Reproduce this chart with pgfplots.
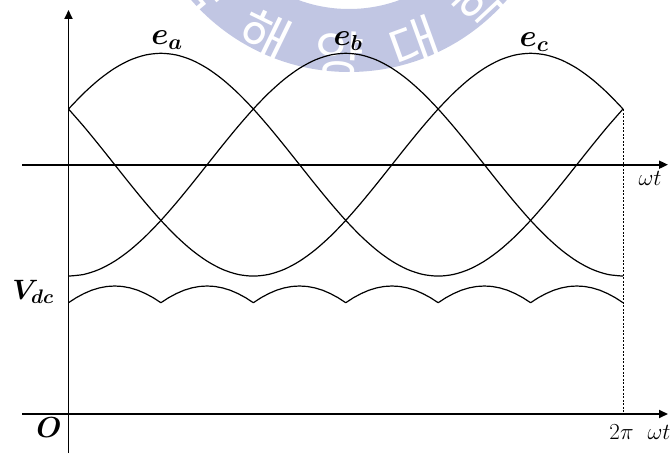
\RequirePackage{fix-cm}
\documentclass[border=0pt]{standalone}
\usepackage{pgfplots}
\usepackage{pgfplotstable}
\usepackage{bm}
\usepackage{fontspec}
\pgfplotsset{compat=1.18}
\usetikzlibrary{arrows.meta}
\newfontfamily\krfont{Noto Sans CJK KR}
\definecolor{sealblue}{RGB}{193,198,227}

% three phase voltages, one period (degrees)
\pgfplotstableread{
deg   ea       eb       ec
0     0.5000  -1.0000   0.5000
10    0.6428  -0.9848   0.3420
20    0.7660  -0.9397   0.1736
30    0.8660  -0.8660   0.0000
40    0.9397  -0.7660  -0.1736
50    0.9848  -0.6428  -0.3420
60    1.0000  -0.5000  -0.5000
70    0.9848  -0.3420  -0.6428
80    0.9397  -0.1736  -0.7660
90    0.8660   0.0000  -0.8660
100   0.7660   0.1736  -0.9397
110   0.6428   0.3420  -0.9848
120   0.5000   0.5000  -1.0000
130   0.3420   0.6428  -0.9848
140   0.1736   0.7660  -0.9397
150   0.0000   0.8660  -0.8660
160  -0.1736   0.9397  -0.7660
170  -0.3420   0.9848  -0.6428
180  -0.5000   1.0000  -0.5000
190  -0.6428   0.9848  -0.3420
200  -0.7660   0.9397  -0.1736
210  -0.8660   0.8660   0.0000
220  -0.9397   0.7660   0.1736
230  -0.9848   0.6428   0.3420
240  -1.0000   0.5000   0.5000
250  -0.9848   0.3420   0.6428
260  -0.9397   0.1736   0.7660
270  -0.8660   0.0000   0.8660
280  -0.7660  -0.1736   0.9397
290  -0.6428  -0.3420   0.9848
300  -0.5000  -0.5000   1.0000
310  -0.3420  -0.6428   0.9848
320  -0.1736  -0.7660   0.9397
330   0.0000  -0.8660   0.8660
340   0.1736  -0.9397   0.7660
350   0.3420  -0.9848   0.6428
360   0.5000  -1.0000   0.5000
}\phases

% rectified dc voltage (six pulses per period)
\pgfplotstableread{
deg  vdc
0   -1.239
5   -1.194
10  -1.157
15  -1.127
20  -1.106
25  -1.093
30  -1.089
35  -1.093
40  -1.106
45  -1.127
50  -1.157
55  -1.194
60  -1.239
65  -1.194
70  -1.157
75  -1.127
80  -1.106
85  -1.093
90  -1.089
95  -1.093
100 -1.106
105 -1.127
110 -1.157
115 -1.194
120 -1.239
125 -1.194
130 -1.157
135 -1.127
140 -1.106
145 -1.093
150 -1.089
155 -1.093
160 -1.106
165 -1.127
170 -1.157
175 -1.194
180 -1.239
185 -1.194
190 -1.157
195 -1.127
200 -1.106
205 -1.093
210 -1.089
215 -1.093
220 -1.106
225 -1.127
230 -1.157
235 -1.194
240 -1.239
245 -1.194
250 -1.157
255 -1.127
260 -1.106
265 -1.093
270 -1.089
275 -1.093
280 -1.106
285 -1.127
290 -1.157
295 -1.194
300 -1.239
305 -1.194
310 -1.157
315 -1.127
320 -1.106
325 -1.093
330 -1.089
335 -1.093
340 -1.106
345 -1.127
350 -1.157
355 -1.194
360 -1.239
}\dclink

\begin{document}
\begin{tikzpicture}[x=1pt, y=1pt]
% university seal in the background
\begin{scope}
\clip (0,0) rectangle (670,453);
\fill[sealblue, even odd rule] (349,590) circle[radius=209] (349,590) circle[radius=146];
\foreach \ch/\ang in {국/-50, 해/-26, 양/-3, 대/20, 학/43}{
  \node[white, rotate=\ang, inner sep=0pt, font={\krfont\fontsize{54}{54}\selectfont}]
    at ({349+193*sin(\ang)},{590-193*cos(\ang)}) {\ch};
}
\end{scope}

% axes
\draw[line width=1.8pt, -{Triangle[length=9pt,width=8pt]}] (68.5,0) -- (68.5,443);
\draw[line width=1.8pt, -{Triangle[length=9pt,width=8pt]}] (22,288.3) -- (668,288.3);
\draw[line width=1.8pt, -{Triangle[length=9pt,width=8pt]}] (22,39) -- (668,39);
\draw[line width=0.6pt, dash pattern=on 2pt off 1.5pt] (623,343.7) -- (623,39);

\begin{axis}[
  at={(0pt,0pt)}, anchor=south west,
  width=670pt, height=453pt, scale only axis,
  hide axis, clip=false,
  xmin=-44.47, xmax=390.5,
  ymin=-2.588, ymax=1.4785,
]
\addplot[black, line width=1.2pt, smooth] table[x=deg, y=ea] {\phases};
\addplot[black, line width=1.2pt, smooth] table[x=deg, y=eb] {\phases};
\addplot[black, line width=1.2pt, smooth] table[x=deg, y=ec] {\phases};
\addplot[black, line width=1.2pt, line join=round] table[x=deg, y=vdc] {\dclink};
\end{axis}

% labels
\node[font={\fontsize{31}{33}\selectfont}] at (167,413) {$\bm{e}_{\bm{a}}$};
\node[font={\fontsize{31}{33}\selectfont}] at (348,412) {$\bm{e}_{\bm{b}}$};
\node[font={\fontsize{31}{33}\selectfont}] at (534,411) {$\bm{e}_{\bm{c}}$};
\node[font={\fontsize{23}{26}\selectfont}] at (650,275) {$\omega t$};
\node[font={\fontsize{23}{26}\selectfont}] at (640,21) {$2\pi\ \ \omega t$};
\node[font={\fontsize{29}{31}\selectfont}] at (49,25) {$\bm{O}$};
\node[font={\fontsize{28}{30}\selectfont}] at (33,161) {$\bm{V}_{\bm{dc}}$};

\pgfresetboundingbox
\path[use as bounding box] (0,0) rectangle (670,453);
\end{tikzpicture}
\end{document}
